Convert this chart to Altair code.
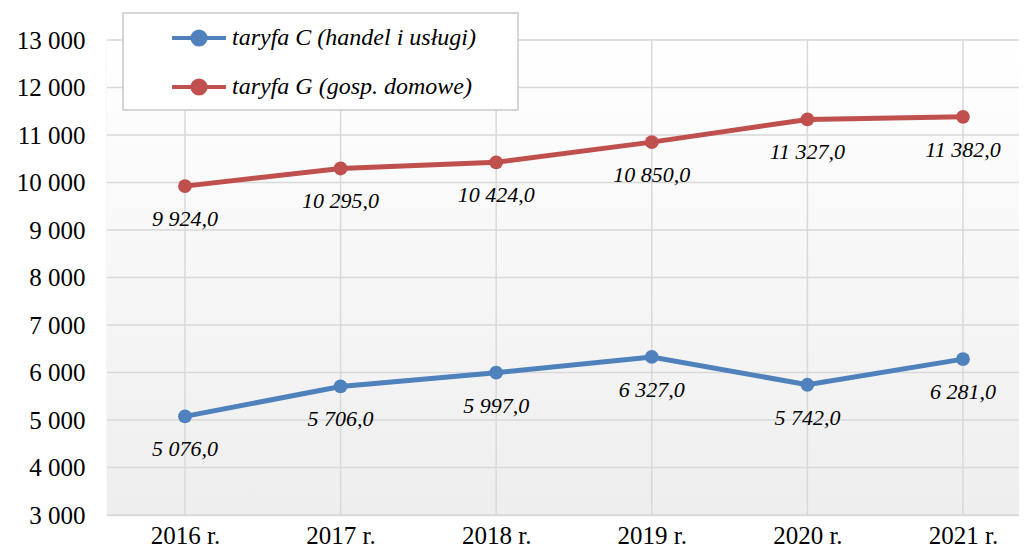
import json
import altair as alt
import pandas as pd

# ---- data ----
years = ["2016 r.", "2017 r.", "2018 r.", "2019 r.", "2020 r.", "2021 r."]
series_names = ["taryfa C (handel i usługi)", "taryfa G (gosp. domowe)"]
taryfa_c = [5076.0, 5706.0, 5997.0, 6327.0, 5742.0, 6281.0]
taryfa_g = [9924.0, 10295.0, 10424.0, 10850.0, 11327.0, 11382.0]
series_colors = ["#4f81bd", "#c0504d"]
y_ticks = [3000, 4000, 5000, 6000, 7000, 8000, 9000, 10000, 11000, 12000, 13000]

W, H = 912, 475
SERIF = "Liberation Serif"
GRID = "#d9d9d9"


def pl(v):
    return f"{v:,.1f}".replace(",", " ").replace(".", ",")


rows = []
for name, vals in zip(series_names, [taryfa_c, taryfa_g]):
    for i, (yr, v) in enumerate(zip(years, vals)):
        rows.append({"idx": i, "year": yr, "series": name, "value": v, "label": pl(v)})
df = pd.DataFrame(rows)
hgrid = pd.DataFrame({"value": y_ticks})
vgrid = pd.DataFrame({"idx": list(range(len(years)))})
one = pd.DataFrame({"a": [0]})

xscale = alt.Scale(domain=[-0.501, 5.36], nice=False, zero=False)
yscale = alt.Scale(domain=[3000, 13000], nice=False, zero=False)

x_axis = alt.Axis(
    values=list(range(len(years))),
    labelExpr=json.dumps(years) + "[datum.value]",
    grid=False, ticks=False, domainColor=GRID, domainWidth=1.5,
    labelFont=SERIF, labelFontSize=25, labelColor="black", labelPadding=8,
    title=None,
)
y_axis = alt.Axis(
    values=y_ticks,
    labelExpr="replace(format(datum.value, ','), ',', ' ')",
    grid=False, ticks=False, domainColor=GRID, domainWidth=1.5,
    labelFont=SERIF, labelFontSize=25, labelColor="black", labelPadding=22,
    title=None,
)

sym_path = "M-2.45,0H2.45M-0.6,0A0.6,0.6,0,1,0,0.6,0A0.6,0.6,0,1,0,-0.6,0"
color = alt.Color(
    "series:N",
    scale=alt.Scale(domain=series_names, range=series_colors),
    legend=alt.Legend(
        title=None, orient="none", legendX=79, legendY=-15,
        symbolType=sym_path, symbolSize=484, symbolStrokeWidth=4,
        labelFont=SERIF, labelFontSize=24, labelFontStyle="italic",
        labelColor="black", rowPadding=19, labelOffset=20, labelLimit=0,
        padding=0,
    ),
)

bg = alt.Chart(one).mark_rect(
    color=alt.Gradient(
        gradient="linear",
        stops=[alt.GradientStop(color="#ffffff", offset=0),
               alt.GradientStop(color="#eeeeee", offset=1)],
        x1=0, x2=0, y1=0, y2=1,
    )
).encode(x=alt.value(0), x2=alt.value(W), y=alt.value(0), y2=alt.value(H))

hrules = alt.Chart(hgrid).mark_rule(color=GRID, strokeWidth=1.5).encode(
    y=alt.Y("value:Q", scale=yscale, axis=y_axis)
)
vrules = alt.Chart(vgrid).mark_rule(color=GRID, strokeWidth=1.5).encode(
    x=alt.X("idx:Q", scale=xscale, axis=x_axis)
)

legend_box = alt.Chart(one).mark_rect(
    fill="white", stroke="#c8c8c8", strokeWidth=1.5
).encode(x=alt.value(16), x2=alt.value(411), y=alt.value(-27), y2=alt.value(70))

base = alt.Chart(df).encode(
    x=alt.X("idx:Q", scale=xscale, axis=x_axis),
    y=alt.Y("value:Q", scale=yscale, axis=y_axis),
)
lines = base.mark_line(strokeWidth=5).encode(color=color, detail="series:N")
points = base.mark_circle(size=190, opacity=1).encode(color=color)
labels = base.mark_text(
    dy=33, font=SERIF, fontStyle="italic", fontSize=22, color="black"
).encode(text="label:N")

chart = alt.layer(bg, hrules, vrules, legend_box, lines, points, labels).properties(
    width=W, height=H,
    autosize=alt.AutoSizeParams(type="none"),
    padding={"left": 99, "top": 32, "right": 0, "bottom": 33},
    background="white",
).configure_view(stroke=None)

chart.save("out.html", embed_options={"renderer": "svg", "actions": False})
